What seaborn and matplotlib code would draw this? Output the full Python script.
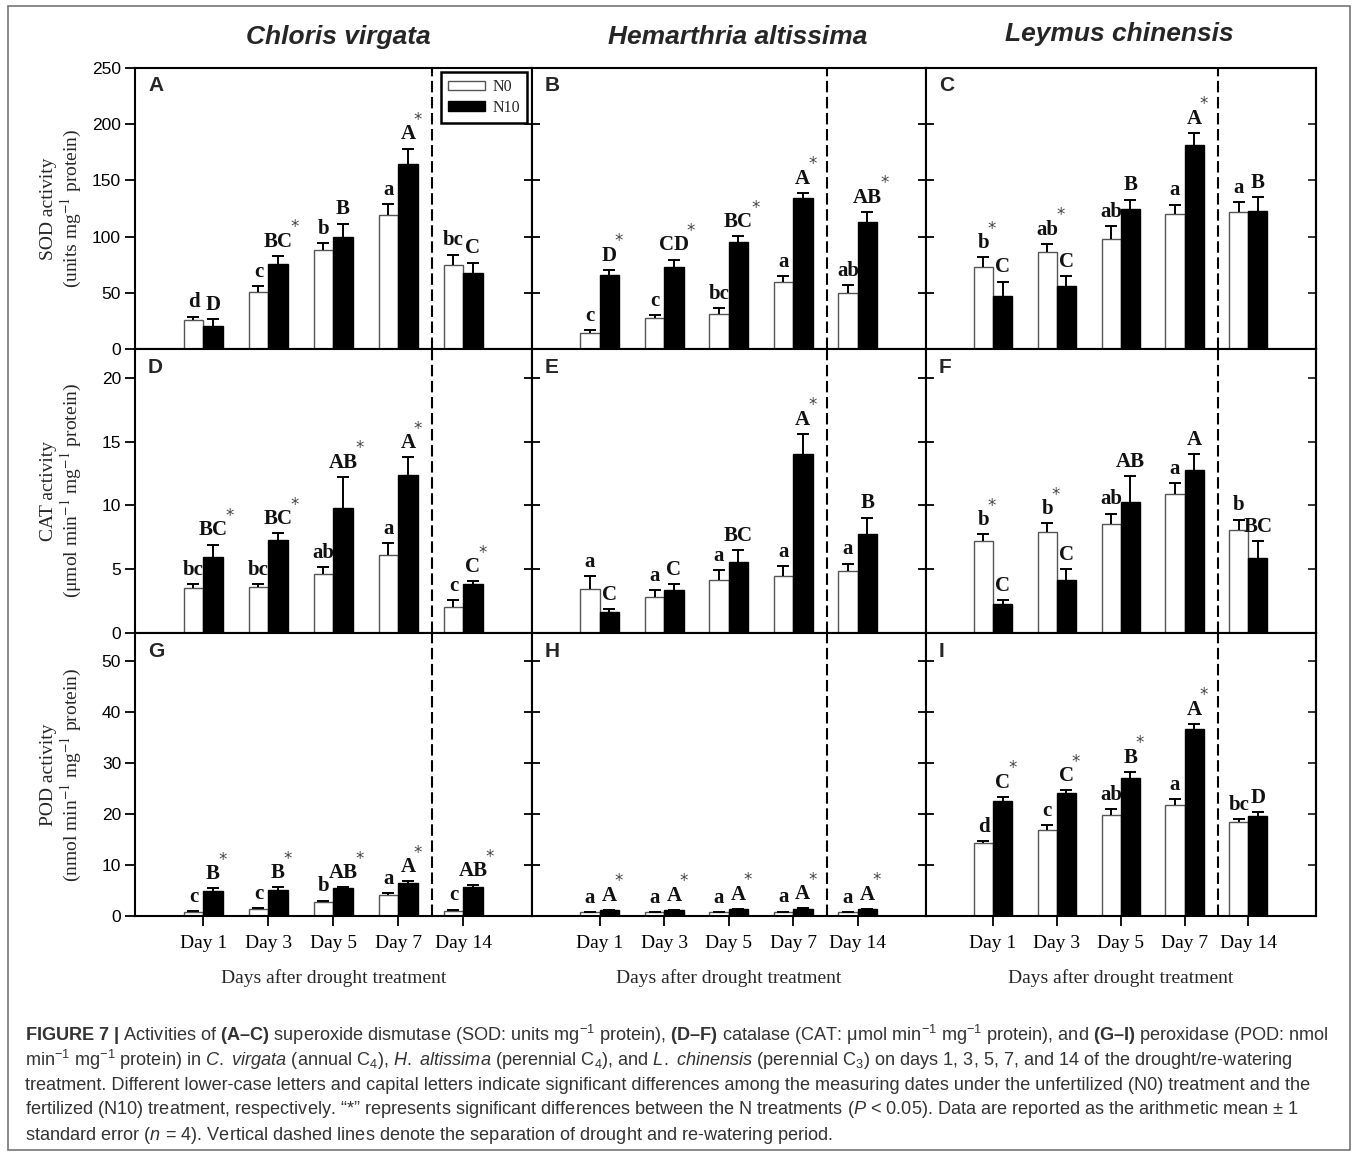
import numpy as np
import pandas as pd
import matplotlib
matplotlib.use("Agg")
import matplotlib.pyplot as plt
import seaborn as sns
from matplotlib.patches import Patch, Rectangle

# ---------------------------------------------------------------- data
days = ["Day 1", "Day 3", "Day 5", "Day 7", "Day 14"]
treatments = ["N0", "N10"]
species = ["Chloris virgata", "Hemarthria altissima", "Leymus chinensis"]

# SOD activity (units mg-1 protein)
sod_cv_n0 = [25.9, 50.9, 88.1, 119.6, 75.0]
sod_cv_n0_se = [3.0, 4.8, 6.0, 9.0, 9.0]
sod_cv_n10 = [20.5, 75.9, 100.0, 164.3, 67.9]
sod_cv_n10_se = [6.0, 7.0, 11.6, 14.0, 9.0]
sod_cv_low = ["d", "c", "b", "a", "bc"]
sod_cv_cap = ["D", "BC", "B", "A", "C"]
sod_cv_star = ["", "N10", "", "N10", ""]

sod_ha_n0 = [14.6, 27.4, 31.3, 59.8, 49.7]
sod_ha_n0_se = [2.0, 2.7, 5.0, 5.0, 7.0]
sod_ha_n10 = [65.5, 72.6, 95.5, 134.5, 113.0]
sod_ha_n10_se = [5.0, 7.0, 5.0, 4.5, 9.0]
sod_ha_low = ["c", "c", "bc", "a", "ab"]
sod_ha_cap = ["D", "CD", "BC", "A", "AB"]
sod_ha_star = ["N10", "N10", "N10", "N10", "N10"]

sod_lc_n0 = [72.6, 86.6, 98.2, 120.5, 122.3]
sod_lc_n0_se = [9.0, 7.0, 11.0, 8.0, 8.4]
sod_lc_n10 = [47.0, 55.7, 124.4, 181.3, 123.2]
sod_lc_n10_se = [13.0, 9.0, 8.6, 11.0, 12.0]
sod_lc_low = ["b", "ab", "ab", "a", "a"]
sod_lc_cap = ["C", "C", "B", "A", "B"]
sod_lc_star = ["N0", "N0", "", "N10", ""]

# CAT activity (umol min-1 mg-1 protein)
cat_cv_n0 = [3.55, 3.6, 4.6, 6.14, 2.06]
cat_cv_n0_se = [0.25, 0.2, 0.55, 0.89, 0.5]
cat_cv_n10 = [5.98, 7.29, 9.8, 12.39, 3.87]
cat_cv_n10_se = [0.95, 0.52, 2.43, 1.38, 0.18]
cat_cv_low = ["bc", "bc", "ab", "a", "c"]
cat_cv_cap = ["BC", "BC", "AB", "A", "C"]
cat_cv_star = ["N10", "N10", "N10", "N10", "N10"]

cat_ha_n0 = [3.45, 2.82, 4.18, 4.47, 4.89]
cat_ha_n0_se = [1.04, 0.52, 0.73, 0.78, 0.55]
cat_ha_n10 = [1.65, 3.34, 5.59, 14.0, 7.73]
cat_ha_n10_se = [0.23, 0.5, 0.89, 1.6, 1.31]
cat_ha_low = ["a", "a", "a", "a", "a"]
cat_ha_cap = ["C", "C", "BC", "A", "B"]
cat_ha_star = ["", "", "", "N10", ""]

cat_lc_n0 = [7.19, 7.94, 8.54, 10.92, 8.1]
cat_lc_n0_se = [0.57, 0.65, 0.81, 0.84, 0.78]
cat_lc_n10 = [2.25, 4.18, 10.27, 12.75, 5.88]
cat_lc_n10_se = [0.31, 0.81, 2.01, 1.25, 1.31]
cat_lc_low = ["b", "b", "ab", "a", "b"]
cat_lc_cap = ["C", "C", "AB", "A", "BC"]
cat_lc_star = ["N0", "N0", "", "", ""]

# POD activity (nmol min-1 mg-1 protein)
pod_cv_n0 = [0.78, 1.37, 2.81, 4.12, 1.05]
pod_cv_n0_se = [0.2, 0.2, 0.2, 0.4, 0.2]
pod_cv_n10 = [4.84, 5.03, 5.42, 6.54, 5.75]
pod_cv_n10_se = [0.65, 0.6, 0.27, 0.26, 0.33]
pod_cv_low = ["c", "c", "b", "a", "c"]
pod_cv_cap = ["B", "B", "AB", "A", "AB"]
pod_cv_star = ["N10", "N10", "N10", "N10", "N10"]

pod_ha_n0 = [0.7, 0.7, 0.7, 0.75, 0.7]
pod_ha_n0_se = [0.1, 0.1, 0.1, 0.1, 0.1]
pod_ha_n10 = [1.1, 1.1, 1.3, 1.4, 1.3]
pod_ha_n10_se = [0.1, 0.1, 0.1, 0.1, 0.1]
pod_ha_low = ["a", "a", "a", "a", "a"]
pod_ha_cap = ["A", "A", "A", "A", "A"]
pod_ha_star = ["N10", "N10", "N10", "N10", "N10"]

pod_lc_n0 = [14.4, 16.9, 19.8, 21.8, 18.4]
pod_lc_n0_se = [0.25, 1.0, 1.2, 1.05, 0.6]
pod_lc_n10 = [22.5, 24.1, 27.06, 36.6, 19.7]
pod_lc_n10_se = [0.9, 0.6, 1.24, 1.1, 0.65]
pod_lc_low = ["d", "c", "ab", "a", "bc"]
pod_lc_cap = ["C", "C", "B", "A", "D"]
pod_lc_star = ["N10", "N10", "N10", "N10", ""]

panel_letters = ["A", "B", "C", "D", "E", "F", "G", "H", "I"]
y_labels = ["SOD activity\n(units mg$^{-1}$ protein)",
            "CAT activity\n(\u03bcmol min$^{-1}$ mg$^{-1}$ protein)",
            "POD activity\n(nmol min$^{-1}$ mg$^{-1}$ protein)"]
y_limits = [250, 22.25, 55.5]
y_ticks = [[0, 50, 100, 150, 200, 250], [0, 5, 10, 15, 20], [0, 10, 20, 30, 40, 50]]
x_label = "Days after drought treatment"

rows = [
    [(sod_cv_n0, sod_cv_n0_se, sod_cv_n10, sod_cv_n10_se, sod_cv_low, sod_cv_cap, sod_cv_star),
     (sod_ha_n0, sod_ha_n0_se, sod_ha_n10, sod_ha_n10_se, sod_ha_low, sod_ha_cap, sod_ha_star),
     (sod_lc_n0, sod_lc_n0_se, sod_lc_n10, sod_lc_n10_se, sod_lc_low, sod_lc_cap, sod_lc_star)],
    [(cat_cv_n0, cat_cv_n0_se, cat_cv_n10, cat_cv_n10_se, cat_cv_low, cat_cv_cap, cat_cv_star),
     (cat_ha_n0, cat_ha_n0_se, cat_ha_n10, cat_ha_n10_se, cat_ha_low, cat_ha_cap, cat_ha_star),
     (cat_lc_n0, cat_lc_n0_se, cat_lc_n10, cat_lc_n10_se, cat_lc_low, cat_lc_cap, cat_lc_star)],
    [(pod_cv_n0, pod_cv_n0_se, pod_cv_n10, pod_cv_n10_se, pod_cv_low, pod_cv_cap, pod_cv_star),
     (pod_ha_n0, pod_ha_n0_se, pod_ha_n10, pod_ha_n10_se, pod_ha_low, pod_ha_cap, pod_ha_star),
     (pod_lc_n0, pod_lc_n0_se, pod_lc_n10, pod_lc_n10_se, pod_lc_low, pod_lc_cap, pod_lc_star)],
]

# ---------------------------------------------------------------- style
sns.set_theme(style="ticks")
plt.rcParams["font.family"] = ["Liberation Sans", "DejaVu Sans"]
plt.rcParams["axes.linewidth"] = 1.5
plt.rcParams["mathtext.fontset"] = "custom"
plt.rcParams["mathtext.rm"] = "Liberation Sans"
plt.rcParams["mathtext.it"] = "Liberation Sans:italic"
plt.rcParams["mathtext.bf"] = "Liberation Sans:bold"

SERIF = "Liberation Serif"
bar_colors = {"N0": "white", "N10": "black"}
edge_colors = ["#555555", "black"]

W, H = 1357, 1153
fig = plt.figure(figsize=(W / 100, H / 100), dpi=100)

col_x = [135, 532, 926]
col_w = [397, 394, 390]
row_y = [68, 349, 633]
row_h = [281, 284, 283]
x_split = 3.52


def draw_panel(ax, r, c, n0, n0_se, n10, n10_se, low, cap, star):
    df = pd.DataFrame({
        "day": days * 2,
        "treatment": ["N0"] * len(days) + ["N10"] * len(days),
        "value": list(n0) + list(n10),
    })
    sns.barplot(data=df, x="day", y="value", hue="treatment", order=days,
                hue_order=treatments, palette=bar_colors, width=0.6,
                errorbar=None, saturation=1, legend=False, ax=ax, zorder=2)

    ymax = y_limits[r]
    for k, (cont, ec, se, labels) in enumerate(
            zip(ax.containers, edge_colors, [n0_se, n10_se], [low, cap])):
        xs, tops = [], []
        for bar in cont:
            bar.set_edgecolor(ec)
            bar.set_linewidth(1.0)
            xs.append(bar.get_x() + bar.get_width() / 2)
            tops.append(bar.get_height())
        eb = ax.errorbar(xs, tops, yerr=[np.zeros(len(se)), se], fmt="none",
                         ecolor="black", elinewidth=1.4, capsize=4.5,
                         capthick=1.4, zorder=3)
        eb[1][0].set_visible(False)
        for i, (x, t, s, lab) in enumerate(zip(xs, tops, se, labels)):
            top = t + s
            ax.annotate(lab, xy=(x, top), xytext=(0, 3),
                        textcoords="offset points", ha="center", va="bottom",
                        family=SERIF, fontweight="bold", fontsize=15,
                        color="#111111", zorder=4)
            target = "N0" if k == 0 else "N10"
            if star[i] == target:
                half = (4.2 if k == 0 else 5.4) * len(lab)
                ax.annotate("*", xy=(x, top), xytext=(half + 1.5, 14),
                            textcoords="offset points", ha="center",
                            va="bottom", family="DejaVu Sans", fontsize=12,
                            color="#444444", zorder=4)

    ax.axvline(x_split, color="black", lw=1.5, ls=(0, (5.5, 2.2)), zorder=1)
    ax.set_xlim(-1.05, 5.06)
    ax.set_ylim(0, ymax)
    ax.set_yticks(y_ticks[r])
    ax.set_xticks(range(len(days)))
    ax.set_xlabel("")
    ax.set_ylabel("")
    for sp in ax.spines.values():
        sp.set_visible(True)
        sp.set_linewidth(1.5)
        sp.set_color("black")

    ax.tick_params(axis="x", direction="out", length=7, width=1.3,
                   colors="black", pad=7)
    if c == 0:
        ax.tick_params(axis="y", direction="out", length=7, width=1.3,
                       colors="black", pad=3, labelsize=12.5)
    else:
        ax.tick_params(axis="y", direction="inout", length=12, width=1.3,
                       colors="black", labelleft=False)
    if c == 2:
        sec = ax.secondary_yaxis("right")
        sec.set_yticks(y_ticks[r])
        sec.tick_params(direction="in", length=6, width=1.3, labelright=False)
        sec.spines["right"].set_linewidth(1.5)

    if r < 2:
        ax.tick_params(axis="x", labelbottom=False)
    else:
        ax.set_xticklabels(days, family=SERIF, fontsize=14)
        ax.set_xlabel(x_label, family=SERIF, fontsize=14, labelpad=12)

    ax.text(0.033, 0.936, panel_letters[r * 3 + c], transform=ax.transAxes,
            ha="left", va="center", fontsize=15, fontweight="bold",
            family="Liberation Sans")


for r in range(3):
    for c in range(3):
        ax = fig.add_axes([col_x[c] / W, 1 - (row_y[r] + row_h[r]) / H,
                           col_w[c] / W, row_h[r] / H])
        draw_panel(ax, r, c, *rows[r][c])
        if r == 0 and c == 0:
            handles = [Patch(facecolor="white", edgecolor="#555555", lw=1.0, label="N0"),
                       Patch(facecolor="black", edgecolor="black", label="N10")]
            leg = ax.legend(handles=handles, loc="upper right",
                            bbox_to_anchor=(0.988, 0.986), frameon=True,
                            fancybox=False, framealpha=1, edgecolor="black",
                            prop={"family": SERIF, "size": 11.5},
                            handlelength=2.3, handleheight=0.55,
                            borderpad=0.45, labelspacing=0.3,
                            handletextpad=0.45, borderaxespad=0)
            leg.get_frame().set_linewidth(1.8)
            leg.set_zorder(5)

# species titles
title_x = [338, 738, 1119]
title_y = [37, 37, 34]
for c, name in enumerate(species):
    fig.text(title_x[c] / W, 1 - title_y[c] / H, name, ha="center",
             va="center", fontsize=19, fontweight="bold", fontstyle="italic",
             family="Liberation Sans")

# y axis titles
for r in range(3):
    fig.text(62 / W, 1 - (row_y[r] + row_h[r] / 2) / H, y_labels[r],
             rotation=90, ha="center", va="center", family=SERIF,
             fontsize=14, linespacing=1.1, math_fontfamily="stix",
             multialignment="center")

# caption
EN = "\u2013"
caption = [
    r"$\mathbf{FIGURE\ 7\ |}$ Activities of $\mathbf{(A" + EN + r"C)}$ superoxide dismutase (SOD: units mg$^{-1}$ protein), "
    r"$\mathbf{(D" + EN + r"F)}$ catalase (CAT: " + "\u03bc" + r"mol min$^{-1}$ mg$^{-1}$ protein), and $\mathbf{(G" + EN
    + r"I)}$ peroxidase (POD: nmol",
    r"min$^{-1}$ mg$^{-1}$ protein) in $\mathit{C.\ virgata}$ (annual C$_4$), $\mathit{H.\ altissima}$ (perennial C$_4$), "
    r"and $\mathit{L.\ chinensis}$ (perennial C$_3$) on days 1, 3, 5, 7, and 14 of the drought/re-watering",
    "treatment. Different lower-case letters and capital letters indicate significant differences among the measuring "
    "dates under the unfertilized (N0) treatment and the",
    "fertilized (N10) treatment, respectively. \u201c*\u201d represents significant differences between the N treatments "
    r"($\mathit{P}$ < 0.05). Data are reported as the arithmetic mean " + "\u00b1" + " 1",
    r"standard error ($\mathit{n}$ = 4). Vertical dashed lines denote the separation of drought and re-watering period.",
]
for i, line in enumerate(caption):
    fig.text(25 / W, 1 - (1035 + 25 * i) / H, line, ha="left", va="center",
             fontsize=13.1, color="#333333", family="Liberation Sans")

# outer frame
fig.patches.append(Rectangle((8 / W, 3 / H), (1350 - 8) / W, (1147 - 3) / H,
                             transform=fig.transFigure, fill=False,
                             edgecolor="#777777", lw=1.2))

fig.savefig("out.png", dpi=100)
